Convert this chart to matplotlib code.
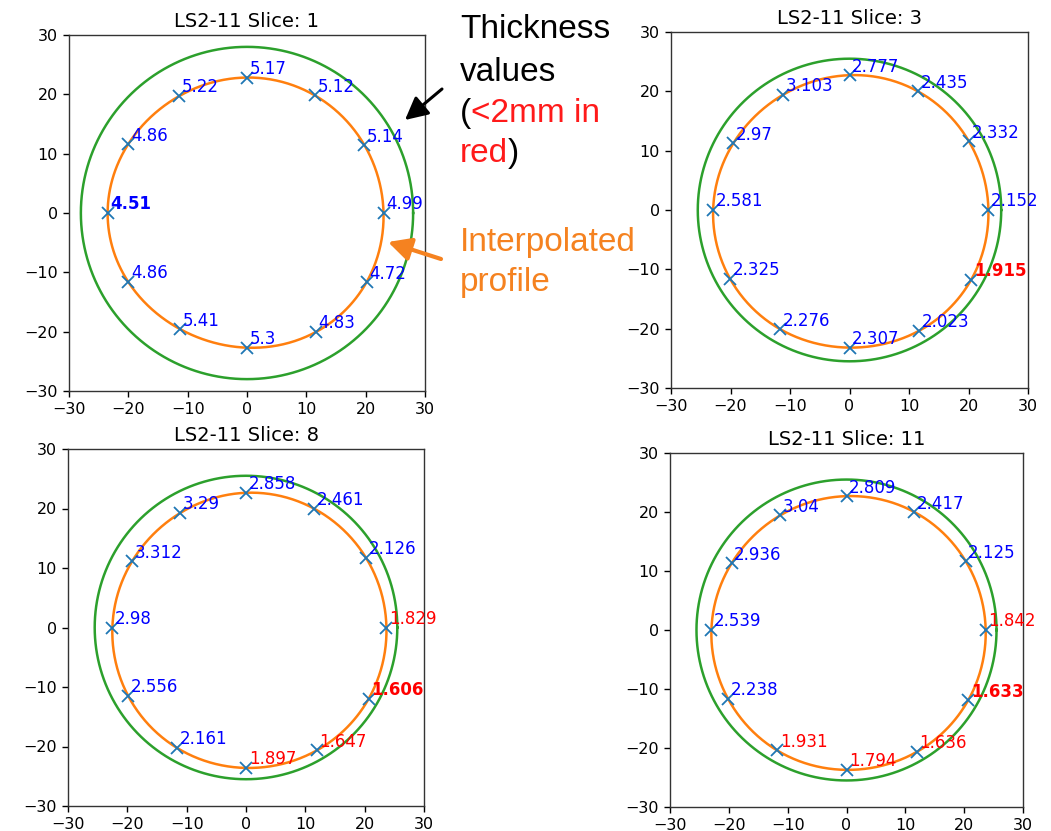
import numpy as np
import matplotlib.pyplot as plt
from matplotlib.patches import FancyArrowPatch

# angle of each measurement point (degrees, counter-clockwise from +x)
angles_deg = [0, 30, 60, 90, 120, 150, 180, 210, 240, 270, 300, 330]

slice_ids = [1, 3, 8, 11]
outer_radius = [28.0, 25.5, 25.5, 25.5]

thick_slice1 = [4.99, 5.14, 5.12, 5.17, 5.22, 4.86, 4.51, 4.86, 5.41, 5.3, 4.83, 4.72]
thick_slice3 = [2.152, 2.332, 2.435, 2.777, 3.103, 2.97, 2.581, 2.325, 2.276, 2.307, 2.023, 1.915]
thick_slice8 = [1.829, 2.126, 2.461, 2.858, 3.29, 3.312, 2.98, 2.556, 2.161, 1.897, 1.647, 1.606]
thick_slice11 = [1.842, 2.125, 2.417, 2.809, 3.04, 2.936, 2.539, 2.238, 1.931, 1.794, 1.636, 1.633]

thicknesses = [thick_slice1, thick_slice3, thick_slice8, thick_slice11]

W, H = 1051, 831
fig = plt.figure(figsize=(W / 100, H / 100), dpi=100)

# axes boxes in pixels: left, top, right, bottom
boxes = [(69, 35, 425, 391), (671, 32, 1028, 388),
         (68, 449, 424, 806), (670, 453, 1023, 807)]


def trig_interp(values, phi):
    # periodic interpolation of equally spaced samples
    v = np.asarray(values, dtype=float)
    n = len(v)
    c = np.fft.rfft(v) / n
    out = np.full_like(phi, c[0].real)
    for k in range(1, len(c)):
        if n % 2 == 0 and k == n // 2:
            out += c[k].real * np.cos(k * phi)
        else:
            out += 2 * (c[k] * np.exp(1j * k * phi)).real
    return out


def draw_slice(ax, sid, R, thick):
    t = np.array(thick)
    th = np.deg2rad(angles_deg)
    r = R - t
    x = r * np.cos(th)
    y = r * np.sin(th)

    phi = np.linspace(0, 2 * np.pi, 721)
    rp = trig_interp(r, phi)

    ax.plot(x, y, 'x', color='C0', ms=8, mew=1.3, zorder=2)
    ax.plot(rp * np.cos(phi), rp * np.sin(phi), color='C1', lw=1.8, zorder=1)
    ax.plot(R * np.cos(phi), R * np.sin(phi), color='C2', lw=1.8, zorder=1)

    imin = int(np.argmin(t))
    for i in range(len(t)):
        col = 'red' if t[i] < 2 else 'blue'
        ax.text(x[i] + 0.45, y[i] + 0.6, f'{t[i]:g}', color=col, fontsize=12,
                fontweight='bold' if i == imin else 'normal', zorder=3)

    ax.set_xlim(-30, 30)
    ax.set_ylim(-30, 30)
    ax.set_xticks(range(-30, 31, 10))
    ax.set_yticks(range(-30, 31, 10))
    ax.tick_params(labelsize=11.5, length=4.5, width=1)
    for s in ax.spines.values():
        s.set_linewidth(1.0)
        s.set_color('#333333')
    ax.set_title(f'LS2-11 Slice: {sid}', fontsize=14, pad=6)


for (l, t_, r_, b), sid, R, th in zip(boxes, slice_ids, outer_radius, thicknesses):
    ax = fig.add_axes([l / W, 1 - b / H, (r_ - l) / W, (b - t_) / H])
    draw_slice(ax, sid, R, th)

# overlay in pixel coordinates for the slide annotations
ov = fig.add_axes([0, 0, 1, 1], zorder=10)
ov.set_xlim(0, W)
ov.set_ylim(H, 0)
ov.axis('off')
ov.patch.set_alpha(0)

orange = '#f58220'
fs = 24
fam = ['Liberation Sans', 'DejaVu Sans']
ov.text(460, 38, 'Thickness', fontsize=fs, family=fam, va='baseline', color='black')
ov.text(460, 81, 'values', fontsize=fs, family=fam, va='baseline', color='black')
p1 = ov.text(460, 122, '(', fontsize=fs, family=fam, va='baseline', color='black')
ov.annotate('<2mm in', xy=(1, 0), xycoords=p1, va='bottom', ha='left',
            fontsize=fs, family=fam, color='#ff1a1a')
p2 = ov.text(460, 162, 'red', fontsize=fs, family=fam, va='baseline', color='#ff1a1a')
ov.annotate(')', xy=(1, 0), xycoords=p2, va='bottom', ha='left',
            fontsize=fs, family=fam, color='black')
ov.text(460, 251, 'Interpolated', fontsize=fs, family=fam, va='baseline', color=orange)
ov.text(460, 291, 'profile', fontsize=fs, family=fam, va='baseline', color=orange)

ov.add_patch(FancyArrowPatch((442, 89), (405, 120), arrowstyle='-|>,head_length=5.5,head_width=2.8',
                             mutation_scale=2.5, color='black', lw=2.2,
                             shrinkA=0, shrinkB=0))
ov.add_patch(FancyArrowPatch((441, 259), (388, 242), arrowstyle='-|>,head_length=5.5,head_width=2.8',
                             mutation_scale=2.5, color=orange, lw=3,
                             shrinkA=0, shrinkB=0))

plt.savefig('out.png', dpi=100)
